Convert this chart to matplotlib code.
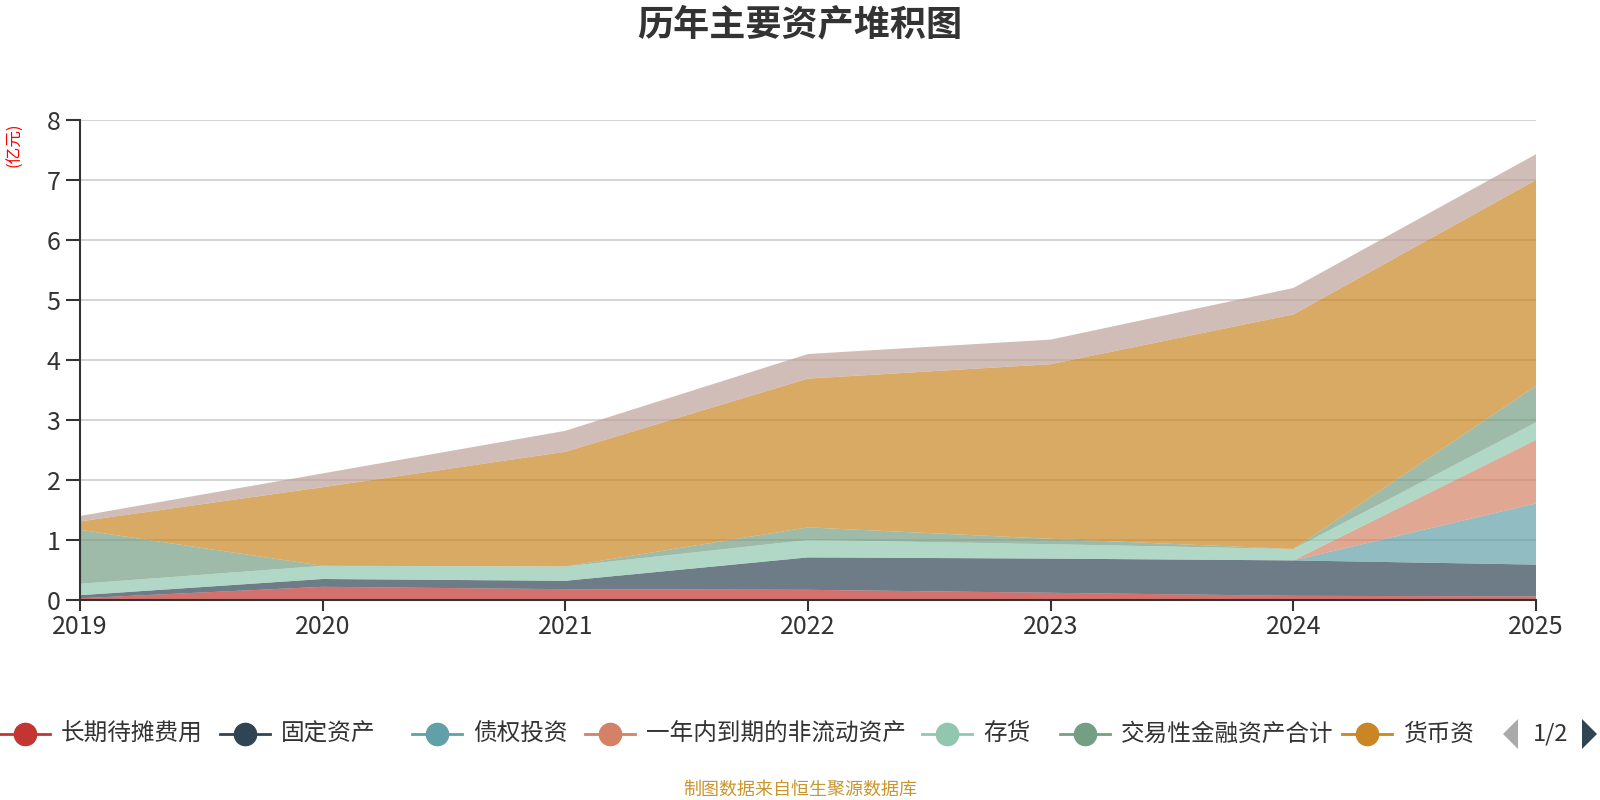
"""
历年主要资产堆积图 - stacked area chart of major assets by year.
"""

import matplotlib

matplotlib.use("Agg")

import matplotlib.pyplot as plt
from matplotlib.lines import Line2D
from matplotlib.patches import Polygon

plt.rcParams["font.family"] = ["Noto Sans CJK SC", "DejaVu Sans"]

W, H = 1600, 800

years = [2019, 2020, 2021, 2022, 2023, 2024, 2025]

# values in 亿元, bottom to top of the stack
long_prepaid = [0.03, 0.22, 0.18, 0.17, 0.12, 0.07, 0.06]
fixed_assets = [0.05, 0.13, 0.14, 0.54, 0.57, 0.59, 0.53]
debt_invest = [0.00, 0.00, 0.00, 0.00, 0.00, 0.00, 1.02]
current_noncurrent = [0.00, 0.00, 0.00, 0.00, 0.00, 0.00, 1.06]
inventory = [0.19, 0.22, 0.24, 0.29, 0.24, 0.19, 0.29]
trading_fin = [0.90, 0.00, 0.00, 0.21, 0.09, 0.00, 0.61]
cash = [0.14, 1.31, 1.91, 2.48, 2.91, 3.91, 3.43]
other_assets = [0.09, 0.23, 0.35, 0.41, 0.41, 0.44, 0.43]

series_names = ["长期待摊费用", "固定资产", "债权投资", "一年内到期的非流动资产",
                "存货", "交易性金融资产合计", "货币资金", "其他"]
series_colors = ["#c23531", "#2f4554", "#61a0a8", "#d48265",
                 "#91c7ae", "#749f83", "#ca8622", "#bda29a"]
# legend only shows the first page, last label cut off
legend_labels = ["长期待摊费用", "固定资产", "债权投资", "一年内到期的非流动资产",
                 "存货", "交易性金融资产合计", "货币资"]


def fx(px):
    return px / W


def fy(py):
    return 1 - py / H


fig = plt.figure(figsize=(16, 8), dpi=100)
ax = fig.add_axes([fx(80), fy(600), fx(1536) - fx(80), fy(120) - fy(600)])

ax.stackplot(
    years,
    long_prepaid, fixed_assets, debt_invest, current_noncurrent,
    inventory, trading_fin, cash, other_assets,
    colors=series_colors, alpha=0.7, linewidth=0,
)

ax.set_xlim(years[0], years[-1])
ax.set_ylim(0, 8)
ax.set_xticks(years)
ax.set_yticks(range(0, 9))
ax.grid(axis="y", color="#cccccc", linewidth=1.2)
ax.set_axisbelow(True)
for side in ("top", "right"):
    ax.spines[side].set_visible(False)
for side in ("left", "bottom"):
    ax.spines[side].set_color("#333333")
    ax.spines[side].set_linewidth(1.5)
ax.tick_params(axis="y", length=10, width=1.5, color="#333333", labelsize=18,
               labelcolor="#333333", pad=4)
ax.tick_params(axis="x", length=8, width=1.5, color="#333333", labelsize=18,
               labelcolor="#333333", pad=2)

fig.text(0.5, fy(25), "历年主要资产堆积图", ha="center", va="center",
         fontsize=26, fontweight="bold", color="#333333")
fig.text(fx(15), fy(145), "(亿元)", ha="center", va="center", rotation=90,
         fontsize=12, color="#ff0000")
fig.text(0.5, fy(790), "制图数据来自恒生聚源数据库", ha="center", va="center",
         fontsize=13, color="#c9952e")

# legend, drawn by hand to mimic the paged legend
marker_x = [25, 245, 437, 610, 947, 1085, 1367]
legend_y = 734
for label, color, mx in zip(legend_labels, series_colors, marker_x):
    fig.add_artist(Line2D([fx(mx - 25), fx(mx + 25)], [fy(legend_y)] * 2,
                          transform=fig.transFigure, color=color, linewidth=2))
    fig.add_artist(Line2D([fx(mx)], [fy(legend_y)], transform=fig.transFigure,
                          marker="o", markersize=16, color=color, linestyle="none"))
    fig.text(fx(mx + 36), fy(legend_y), label, ha="left", va="center",
             fontsize=17, color="#333333")

fig.add_artist(Polygon([(fx(1518), fy(719)), (fx(1518), fy(749)), (fx(1503), fy(734))],
                       closed=True, transform=fig.transFigure, facecolor="#aaaaaa",
                       edgecolor="none"))
fig.text(fx(1551), fy(legend_y), "1/2", ha="center", va="center",
         fontsize=17, color="#333333")
fig.add_artist(Polygon([(fx(1582), fy(719)), (fx(1582), fy(749)), (fx(1597), fy(734))],
                       closed=True, transform=fig.transFigure, facecolor="#2f4554",
                       edgecolor="none"))

fig.savefig("out.png", dpi=100)
